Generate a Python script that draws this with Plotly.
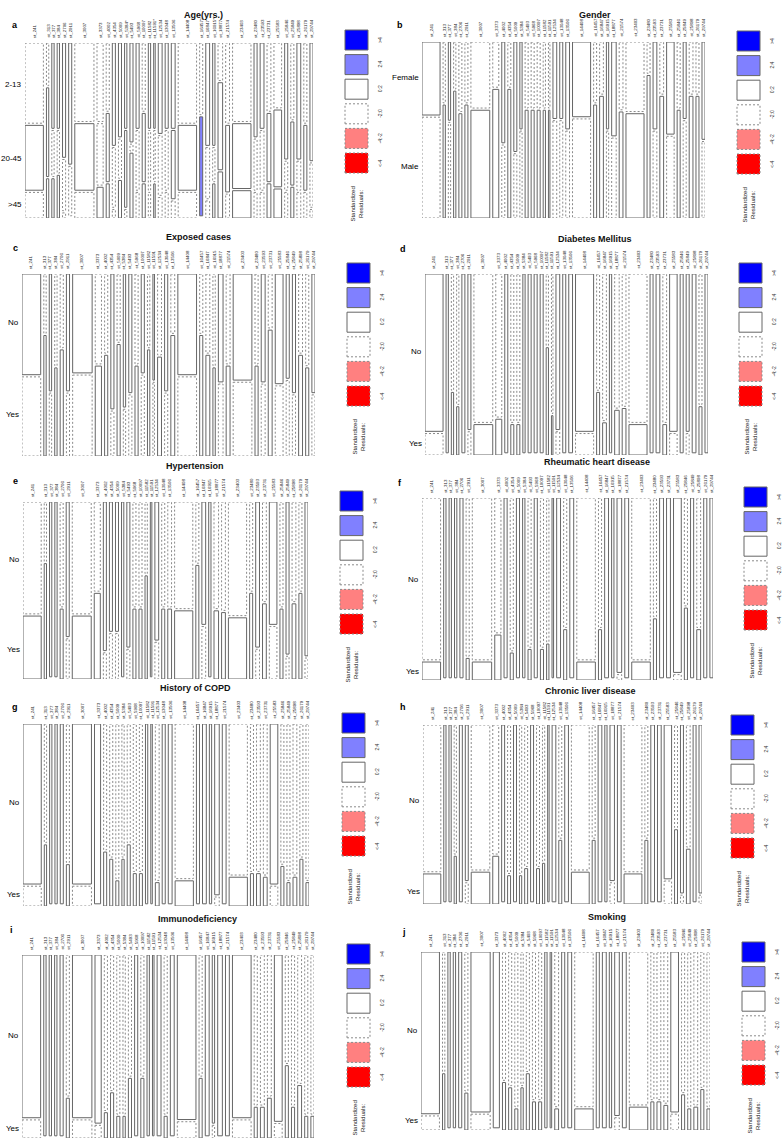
import numpy as np
import plotly.graph_objects as go

W, H = 782, 1140

# ---------------- data ----------------
st_labels = ["st_241", "st_313", "st_377", "st_384", "st_2706", "st_2911", "st_3007", "st_3373",
             "st_4002", "st_4354", "st_5009", "st_5384", "st_5493", "st_5968", "st_10097", "st_11582",
             "st_11591", "st_12534", "st_13048", "st_13506", "st_14408", "st_16457", "st_16847",
             "st_16915", "st_18877", "st_21574", "st_23403", "st_23480", "st_23593", "st_23731",
             "st_25583", "st_25846", "st_25849", "st_25898", "st_26179", "st_29744"]
st_counts = [24, 3, 3, 3, 4, 4, 25, 8, 4, 4, 4, 3, 4, 4, 4, 3, 2, 5, 4, 5, 24, 4, 5, 3, 6, 5,
             24, 4, 5, 5, 10, 4, 4, 5, 4, 4]

# percentages within each ST
age_2_13 = [47, 25, 50, 50, 67, 71, 46, 46, 40, 60, 55, 50, 58, 50, 40, 50, 50, 53, 50, 50,
            47, 42, 60, 60, 22, 47, 46, 55, 50, 40, 38, 68, 45, 68, 47, 69]
age_20_45 = [38, 52, 27, 25, 30, 29, 39, 36, 40, 35, 23, 45, 4, 35, 40, 35, 30, 35, 35, 40,
             38, 58, 30, 20, 51, 39, 38, 30, 35, 40, 45, 17, 37, 17, 38, 26]
gender_female = [42, 35, 45, 27, 40, 35, 38, 26, 58, 26, 63, 50, 38, 38, 38, 38, 38, 44, 44, 50,
                 43, 35, 30, 50, 54, 39, 40, 18, 50, 30, 53, 38, 44, 30, 30, 56]
exposed_no = [56, 33, 65, 51, 41, 65, 55, 50, 44, 75, 38, 74, 66, 50, 55, 41, 59, 45, 65, 33,
              56, 33, 44, 51, 60, 50, 59, 50, 60, 30, 61, 58, 66, 44, 51, 66]
diabetes_no = [88, 100, 65, 73, 100, 87, 83, 80, 100, 83, 83, 100, 100, 100, 100, 40, 78, 87, 100, 100,
               88, 65, 82, 100, 75, 74, 83, 100, 100, 83, 88, 100, 88, 100, 73, 100]
hypertension_no = [64, 34, 100, 100, 60, 77, 64, 51, 85, 74, 74, 100, 83, 60, 60, 41, 100, 79, 60, 60,
                   61, 35, 70, 100, 61, 62, 65, 51, 83, 57, 70, 60, 87, 57, 51, 88]
rheumatic_no = [90, 100, 100, 100, 100, 88, 90, 75, 100, 85, 100, 100, 83, 100, 83, 80, 100, 100, 72, 100,
                90, 72, 100, 100, 97, 100, 90, 66, 100, 100, 97, 60, 100, 72, 100, 100]
copd_no = [89, 66, 100, 100, 100, 77, 89, 100, 70, 74, 86, 74, 66, 82, 82, 100, 100, 87, 100, 100,
           86, 100, 100, 100, 95, 100, 84, 82, 82, 84, 89, 78, 87, 84, 74, 87]
liver_no = [83, 100, 100, 73, 100, 88, 82, 73, 100, 84, 100, 84, 80, 100, 80, 77, 100, 100, 64, 100,
            82, 64, 100, 100, 88, 100, 83, 64, 100, 100, 87, 58, 95, 69, 100, 95]
immuno_no = [90, 100, 100, 100, 100, 78, 90, 93, 86, 75, 88, 88, 67, 100, 67, 100, 100, 100, 88, 100,
             91, 67, 100, 93, 100, 100, 90, 83, 83, 78, 92, 60, 83, 71, 88, 88]
smoking_no = [92, 68, 100, 100, 100, 79, 91, 100, 73, 76, 88, 76, 68, 84, 84, 100, 100, 88, 100, 100,
              88, 100, 100, 100, 93, 100, 87, 84, 84, 86, 91, 80, 88, 87, 77, 88]

starred_age = ["st_5384", "st_11591", "st_16457", "st_16915"]
# cells whose standardized residual falls outside (-2, 2) in the reference
residual_override = {("a", "st_16457", "20-45"): 3.0}

legend_bins = [">4", "2:4", "0:2", "-2:0", "-4:-2", "<-4"]
legend_fill = ["#0000FF", "#8080FF", "#FFFFFF", "#FFFFFF", "#FF8080", "#FF0000"]
legend_solid = [True, True, True, False, False, False]


def props(*pcts):
    P = np.array(pcts, float).T / 100.0
    rest = np.clip(1 - P.sum(1, keepdims=True), 0, None)
    return np.hstack([P, rest])


panels = [
    dict(key="a", title="Age(yrs.)", levels=["2-13", "20-45", ">45"], P=props(age_2_13, age_20_45),
         box=(25, 43, 313, 218), title_xy=(203, 15), letter_xy=(15, 25), legend_xy=(345, 30)),
    dict(key="b", title="Gender", levels=["Female", "Male"], P=props(gender_female),
         box=(422, 42, 705, 218), title_xy=(595, 15), letter_xy=(400, 25), legend_xy=(737, 31)),
    dict(key="c", title="Exposed cases", levels=["No", "Yes"], P=props(exposed_no),
         box=(22, 274, 315, 456), title_xy=(198, 237), letter_xy=(15, 248), legend_xy=(347, 263)),
    dict(key="d", title="Diabetes Mellitus", levels=["No", "Yes"], P=props(diabetes_no),
         box=(425, 274, 708, 455), title_xy=(595, 239), letter_xy=(403, 249), legend_xy=(739, 263)),
    dict(key="e", title="Hypertension", levels=["No", "Yes"], P=props(hypertension_no),
         box=(23, 502, 308, 679), title_xy=(195, 466), letter_xy=(15, 481), legend_xy=(340, 491)),
    dict(key="f", title="Rheumatic heart disease", levels=["No", "Yes"], P=props(rheumatic_no),
         box=(422, 498, 713, 680), title_xy=(597, 462), letter_xy=(400, 483), legend_xy=(744, 487)),
    dict(key="g", title="History of COPD", levels=["No", "Yes"], P=props(copd_no),
         box=(23, 724, 309, 906), title_xy=(195, 688), letter_xy=(15, 707), legend_xy=(342, 713)),
    dict(key="h", title="Chronic liver disease", levels=["No", "Yes"], P=props(liver_no),
         box=(423, 725, 702, 904), title_xy=(590, 691), letter_xy=(403, 707), legend_xy=(731, 715)),
    dict(key="i", title="Immunodeficiency", levels=["No", "Yes"], P=props(immuno_no),
         box=(22, 955, 314, 1138), title_xy=(197, 919), letter_xy=(11, 930), legend_xy=(347, 944)),
    dict(key="j", title="Smoking", levels=["No", "Yes"], P=props(smoking_no),
         box=(421, 952, 710, 1130), title_xy=(607, 917), letter_xy=(404, 932), legend_xy=(742, 942)),
]

FONT = "Liberation Sans, Arial, sans-serif"
LINE = "#666666"
DLINE = "#8a8a8a"
DASH = "2px,2px"
XGAP = 4.0


def fx(px):
    return px / W


def fy(py):
    return 1 - py / H


def style(r):
    if r > 4:
        return "#0000FF", "solid", LINE
    if r > 2:
        return "#8080FF", "solid", LINE
    if r >= 0:
        return "#FFFFFF", "solid", LINE
    if r >= -2:
        return "#FFFFFF", DASH, DLINE
    if r >= -4:
        return "#FF8080", DASH, DLINE
    return "#FF0000", DASH, DLINE


fig = go.Figure()
shapes, annotations = [], []
N = np.array(st_counts, float)
layout_axes = {}

for n, p in enumerate(panels, start=1):
    xa = "x" if n == 1 else f"x{n}"
    ya = "y" if n == 1 else f"y{n}"
    l, t, r_, b = p["box"]
    P = p["P"]
    K = P.shape[1]
    obs = N[:, None] * P
    marg = obs.sum(0) / N.sum()
    exp = N[:, None] * marg[None, :]
    # sign of the Pearson residual; magnitudes kept inside (-2, 2) unless listed
    resid = np.clip((obs - exp) / np.sqrt(exp), -1.99, 1.99)
    for (pk, st, lev), val in residual_override.items():
        if pk == p["key"]:
            resid[st_labels.index(st), p["levels"].index(lev)] = val

    total = N.sum() + XGAP * (len(N) - 1)
    gy = 2.2 / (b - t)
    avail = 1 - (K - 1) * gy

    layout_axes["xaxis" if n == 1 else f"xaxis{n}"] = dict(
        domain=[fx(l), fx(r_)], range=[0, total], visible=False, fixedrange=True,
        anchor=ya)
    layout_axes["yaxis" if n == 1 else f"yaxis{n}"] = dict(
        domain=[fy(b), fy(t)], range=[1, 0], visible=False, fixedrange=True,
        anchor=xa)
    fig.add_trace(go.Scatter(x=[None], y=[None], xaxis=xa, yaxis=ya,
                             showlegend=False, hoverinfo="skip"))

    x0 = 0.0
    for c, st in enumerate(st_labels):
        x1 = x0 + N[c]
        y = 0.0
        for k in range(K):
            h = P[c, k] * avail
            if h > 1e-9:
                fill, dash, lc = style(resid[c, k])
                shapes.append(dict(type="rect", xref=xa, yref=ya, x0=x0, x1=x1, y0=y, y1=y + h,
                                   fillcolor=fill, line=dict(color=lc, width=1, dash=dash),
                                   layer="above"))
            y += h + gy
        lab = st + ("*" if (p["key"] == "a" and st in starred_age) else "")
        annotations.append(dict(text=lab, xref=xa, yref=f"{ya} domain", x=(x0 + x1) / 2, y=1,
                                xanchor="center", yanchor="bottom", yshift=3, textangle=-90,
                                showarrow=False, font=dict(family=FONT, size=4.4, color="#222")))
        x0 = x1 + XGAP

    # row labels at marginal centres
    y = 0.0
    for k, lev in enumerate(p["levels"]):
        h = marg[k] * avail
        annotations.append(dict(text=lev, xref=f"{xa} domain", yref=ya, x=0, y=y + h / 2,
                                xanchor="right", yanchor="middle", xshift=-1, showarrow=False,
                                font=dict(family=FONT, size=8, color="#000000")))
        y += h + gy

    # title and letter
    tx, ty = p["title_xy"]
    annotations.append(dict(text=f"<b>{p['title']}</b>", xref="paper", yref="paper", x=fx(tx), y=fy(ty),
                            xanchor="center", yanchor="middle", showarrow=False,
                            font=dict(family=FONT, size=9, color="#111")))
    lx, ly = p["letter_xy"]
    annotations.append(dict(text=f"<b>{p['key']}</b>", xref="paper", yref="paper", x=fx(lx), y=fy(ly),
                            xanchor="center", yanchor="middle", showarrow=False,
                            font=dict(family=FONT, size=9, color="#000")))

    # shading legend
    gx, gtop = p["legend_xy"]
    sw, sh, step = 23, 20, 24.6
    for i, (lab, fill, solid) in enumerate(zip(legend_bins, legend_fill, legend_solid)):
        y0 = gtop + i * step
        shapes.append(dict(type="rect", xref="paper", yref="paper", x0=fx(gx), x1=fx(gx + sw),
                           y0=fy(y0 + sh), y1=fy(y0), fillcolor=fill,
                           line=dict(color=LINE if solid else DLINE, width=1,
                                     dash="solid" if solid else DASH)))
        annotations.append(dict(text=lab, xref="paper", yref="paper", x=fx(gx + 35), y=fy(y0 + sh / 2),
                                xanchor="center", yanchor="middle", textangle=-90, showarrow=False,
                                font=dict(family=FONT, size=5, color="#333")))
    annotations.append(dict(text="Standardized<br>Residuals:", xref="paper", yref="paper",
                            x=fx(gx + 12), y=fy(gtop + 6 * step + 27), xanchor="center", yanchor="middle",
                            textangle=-90, showarrow=False,
                            font=dict(family=FONT, size=6, color="#222")))

fig.update_layout(width=W, height=H, margin=dict(l=0, r=0, t=0, b=0),
                  paper_bgcolor="white", plot_bgcolor="white", showlegend=False,
                  shapes=shapes, annotations=annotations, **layout_axes)

fig.write_html("out.html", config={"displayModeBar": False},
               post_script="document.body.style.margin='0';document.body.style.padding='0';"
                           "document.body.style.overflow='hidden';")
